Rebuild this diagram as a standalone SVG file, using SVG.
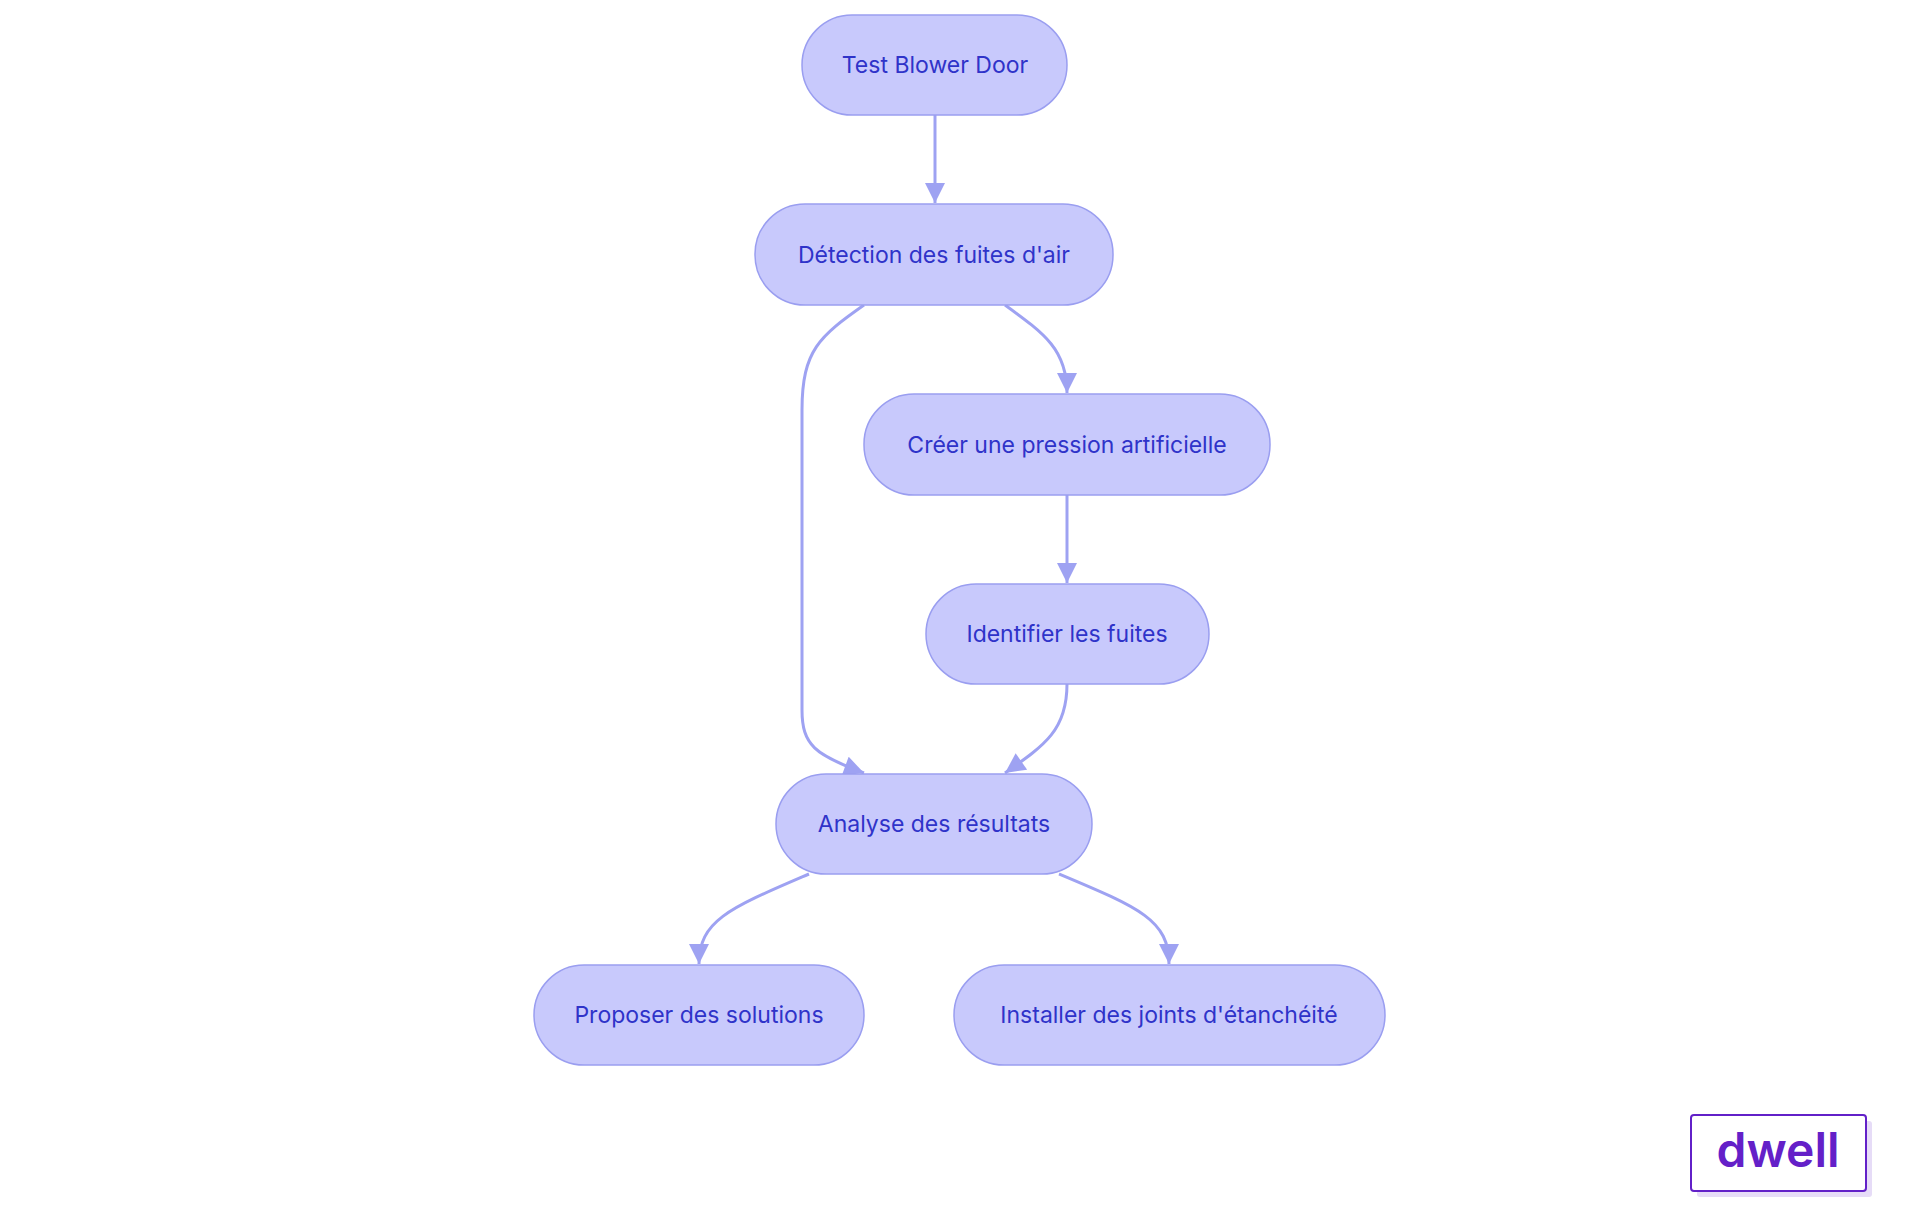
<svg xmlns="http://www.w3.org/2000/svg" width="1920" height="1215" viewBox="0 0 1920 1215">
<style>
.n rect{fill:#c8c9fc;stroke:#9a9ef0;stroke-width:1.5}
.n text{font-family:Inter,"Liberation Sans",sans-serif;font-size:23px;fill:#2f33c9;text-anchor:middle;dominant-baseline:central}
.e path{fill:none;stroke:#9ea2f2;stroke-width:3}
</style>
<defs><marker id="a" viewBox="0 0 10 10" refX="10" refY="5" markerWidth="22" markerHeight="20" markerUnits="userSpaceOnUse" orient="auto"><path d="M0,0L10,5L0,10z" fill="#9ea2f2"/></marker></defs>
<rect width="1920" height="1215" fill="#fff"/>
<g class="e">
<path d="M935,115V203" marker-end="url(#a)"/>
<path d="M864,305C820,336 802,350 802,410V710C802,745 815,755 864,773" marker-end="url(#a)"/>
<path d="M1005,305C1045,334 1067,350 1067,393" marker-end="url(#a)"/>
<path d="M1067,495V583" marker-end="url(#a)"/>
<path d="M1067,684C1067,730 1045,745 1005,773" marker-end="url(#a)"/>
<path d="M809,874C730,908 699,920 699,964" marker-end="url(#a)"/>
<path d="M1059,874C1140,908 1169,920 1169,964" marker-end="url(#a)"/>
</g>
<g id="n1" class="n"><rect x="802" y="15" width="265" height="100" rx="50"/><text x="935" y="65">Test Blower Door</text></g>
<g id="n2" class="n"><rect x="755" y="204" width="358" height="101" rx="50"/><text x="934" y="255">Détection des fuites d'air</text></g>
<g id="n3" class="n"><rect x="864" y="394" width="406" height="101" rx="50"/><text x="1067" y="445">Créer une pression artificielle</text></g>
<g id="n4" class="n"><rect x="926" y="584" width="283" height="100" rx="50"/><text x="1067" y="634">Identifier les fuites</text></g>
<g id="n5" class="n"><rect x="776" y="774" width="316" height="100" rx="50"/><text x="934" y="824">Analyse des résultats</text></g>
<g id="n6" class="n"><rect x="534" y="965" width="330" height="100" rx="50"/><text x="699" y="1015">Proposer des solutions</text></g>
<g id="n7" class="n"><rect x="954" y="965" width="431" height="100" rx="50"/><text x="1169" y="1015">Installer des joints d'étanchéité</text></g>
<g id="logo">
<rect x="1697" y="1121" width="175" height="76" rx="3" fill="#e6dcf7"/>
<rect x="1691" y="1115" width="175" height="76" rx="3" fill="#fff" stroke="#6220c8" stroke-width="2"/>
<text x="1778" y="1167" font-family="Inter,'Liberation Sans',sans-serif" font-size="48" font-weight="600" fill="#6420c8" text-anchor="middle">dwell</text>
</g>
</svg>
